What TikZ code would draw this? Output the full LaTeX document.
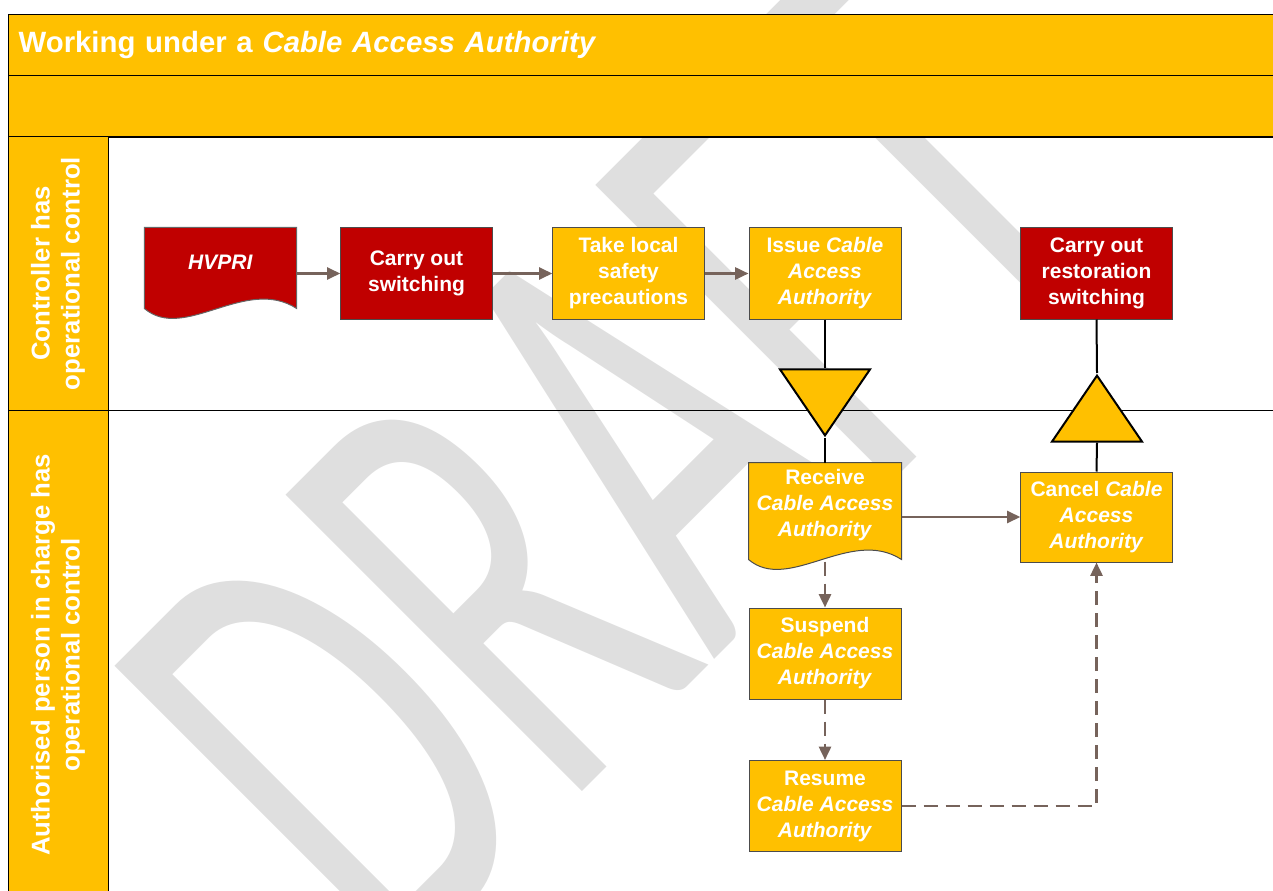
\documentclass[tikz,border=0pt]{standalone}
\usepackage{fontspec}
\setmainfont{Liberation Sans}
\newfontfamily\wmfont{Carlito}
\usetikzlibrary{shapes.geometric,arrows.meta,calc,positioning}

\definecolor{cayellow}{HTML}{FFC000}
\definecolor{cared}{HTML}{C00000}
\definecolor{caflow}{RGB}{118,99,91}
\definecolor{cawater}{HTML}{DFDFDF}

\pgfdeclarelayer{watermark}
\pgfdeclarelayer{docback}
\pgfsetlayers{watermark,docback,main}

\tikzset{
  task/.style={draw=black!70, line width=0.75pt, minimum width=113.5pt, minimum height=68.25pt,
    inner sep=0pt, text=white, align=center, font=\bfseries\fontsize{15.75}{19.5}\selectfont},
  yellowtask/.style={task, fill=cayellow},
  redtask/.style={task, fill=cared},
  doctask/.style={task, draw=none, fill=none},
  bar/.style={anchor=north west, fill=cayellow, draw=black, line width=1pt, inner sep=0pt, text=white},
  lanehead/.style={rotate=90, fill=cayellow, draw=black, line width=0.75pt, minimum height=75pt,
    inner sep=0pt, text=white, align=center, font=\bfseries\fontsize{19.3}{22.5}\selectfont},
  lane/.style={draw=black, line width=0.75pt},
  handoff/.style={isosceles triangle, isosceles triangle stretches, fill=cayellow, draw=black,
    line width=1.5pt, inner sep=0pt, minimum width=67.5pt, minimum height=49.5pt},
  flow/.style={->, draw=caflow, line width=1.9pt},
  altflow/.style={flow, dash pattern=on 10.5pt off 6pt},
  handline/.style={draw=black, line width=1.5pt},
  draftmark/.style={text=cawater, inner sep=0pt, anchor=base west, rotate=45, xscale=0.6,
    font=\wmfont\fontsize{490}{490}\selectfont}
}

\begin{document}
\begin{tikzpicture}[x=0.75pt, y=-0.75pt, >={Triangle[length=10pt,width=9pt]}]

\useasboundingbox (0,0) rectangle (1273,891);

\begin{pgfonlayer}{watermark}
\node[draftmark] (draft) at (392,982) {DRAFT};
\end{pgfonlayer}

% pool and lanes
\node[bar, minimum height=45.75pt, inner xsep=7.5pt, text width=946.5pt, align=left,
  font=\bfseries\fontsize{22}{26}\selectfont] (title) at (8,14) {Working under a \textit{Cable Access Authority}};
\node[bar, minimum height=46.5pt, minimum width=961.5pt] (subtitle) at (8,75) {};

\draw[lane] (108,137) rectangle (1290,410);
\draw[lane] (108,410) rectangle (1290,900);
\node[lanehead, minimum width=204.75pt] (ctrlhead) at (58,273.5) {Controller has\\operational control};
\node[lanehead, minimum width=367.5pt] (aphead) at (58,655) {Authorised person in charge has\\operational control};

% controller lane
\node[doctask, minimum height=51pt] (hvpri) at (220.5,262) {\textit{HVPRI}};
\node[redtask] (switch) at (416.5,273.5) {Carry out\\switching};
\node[yellowtask] (safety) at (628.5,273.5) {Take local\\safety\\precautions};
\node[yellowtask, minimum width=114pt] (issue) at (825,273.5) {Issue \textit{Cable}\\\textit{Access}\\\textit{Authority}};
\node[redtask] (restore) at (1096.5,273.5) {Carry out\\restoration\\switching};

\node[handoff, shape border rotate=270, anchor=apex] (tohand) at (825,438) {};
\node[handoff, shape border rotate=90, anchor=apex] (fromhand) at (1097,373) {};

% person in charge lane
\node[doctask, minimum width=114pt, minimum height=63pt] (receive) at (825,505) {Receive\\\textit{Cable Access}\\\textit{Authority}};
\node[yellowtask, minimum height=67.5pt] (cancel) at (1096.5,517) {Cancel \textit{Cable}\\\textit{Access}\\\textit{Authority}};
\node[yellowtask, minimum width=114pt] (suspend) at (825,653.5) {Suspend\\\textit{Cable Access}\\\textit{Authority}};
\node[yellowtask, minimum width=114pt] (resume) at (825,806) {Resume\\\textit{Cable Access}\\\textit{Authority}};

\begin{pgfonlayer}{docback}
\path[fill=cared, draw=black!60, line width=0.75pt] (hvpri.north west) -- (hvpri.north east)
  -- ($(hvpri.south east)+(0,12)$) .. controls ($(hvpri.south east)+(-51,-21)$) and ($(hvpri.south west)+(40,46)$)
  .. ($(hvpri.south west)+(0,12)$) -- cycle;
\path[fill=cayellow, draw=black!70, line width=0.75pt] (receive.north west) -- (receive.north east)
  -- ($(receive.south east)+(0,12)$) .. controls ($(receive.south east)+(-51,-21)$) and ($(receive.south west)+(40,46)$)
  .. ($(receive.south west)+(0,12)$) -- cycle;
\end{pgfonlayer}

\coordinate (receivefoot) at ($(receive.south)+(0,14)$);

% connectors
\draw[flow] (hvpri.east |- switch.west) -- (switch.west);
\draw[flow] (switch) -- (safety);
\draw[flow] (safety) -- (issue);
\draw[handline] (issue.south) -- (tohand.lower side);
\draw[handline] (tohand.apex) -- (receive.north);
\draw[flow] (receive.east |- cancel.west) -- (cancel.west);
\draw[handline] (cancel.north) -- (fromhand.lower side);
\draw[handline] (fromhand.apex) -- (restore.south);
\draw[altflow] (receivefoot) -- (suspend.north);
\draw[altflow] (suspend) -- (resume);
\draw[altflow] (resume.east) -| (cancel.south);

\end{tikzpicture}
\end{document}
